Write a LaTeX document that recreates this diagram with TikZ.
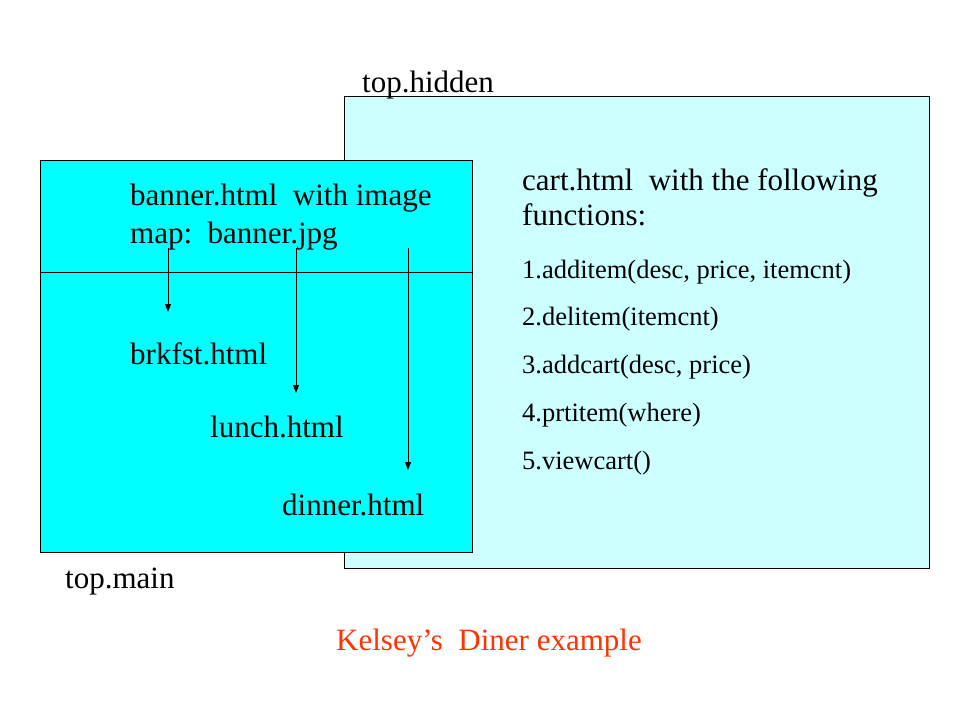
\documentclass[tikz,border=0pt]{standalone}
\usepackage{fontspec}
\setmainfont{Liberation Serif}
\usetikzlibrary{arrows.meta}
\definecolor{maincyan}{HTML}{00FFFF}
\definecolor{hiddencyan}{HTML}{CCFFFF}
\definecolor{titlered}{HTML}{FF3300}
\begin{document}
\begin{tikzpicture}[x=1pt,y=-1pt,
  big/.style={anchor=base west,inner sep=0pt,font=\fontsize{31}{37}\selectfont},
  small/.style={anchor=base west,inner sep=0pt,font=\fontsize{26.5}{31}\selectfont},
  link/.style={-{Triangle[length=8pt,width=6pt]},line width=0.8pt}]
\useasboundingbox (0,0) rectangle (960,720);
\fill[white] (0,0) rectangle (960,720);
% frames
\draw[fill=hiddencyan,line width=0.8pt] (344,96) rectangle (929,568);
\draw[fill=maincyan,line width=0.8pt] (40,160) rectangle (472,552);
\draw[line width=0.8pt] (40,272) -- (472,272);
% labels
\node[big] (hid) at (362,92) {top.hidden};
\node[big] (mainlbl) at (65,588) {top.main};
\node[big] (banner1) at (130,205) {banner.html\ \ with image};
\node[big] (banner2) at (130,243) {map:\ \ banner.jpg};
\node[big] (brk) at (130,364) {brkfst.html};
\node[big] (lunch) at (210,437) {lunch.html};
\node[big] (dinner) at (282,515) {dinner.html};
\node[big] (cart1) at (522,190) {cart.html\ \ with the following};
\node[big] (cart2) at (522,225) {functions:};
\node[small] (f1) at (522,278) {1.additem(desc, price, itemcnt)};
\node[small] (f2) at (522,325) {2.delitem(itemcnt)};
\node[small] (f3) at (522,373) {3.addcart(desc, price)};
\node[small] (f4) at (522,421) {4.prtitem(where)};
\node[small] (f5) at (522,469) {5.viewcart()};
\node[anchor=base,inner sep=0pt,font=\fontsize{31}{37}\selectfont,text=titlered] (title) at (489,650) {Kelsey’s\ \ Diner example};
% arrows
\coordinate (s1) at (168,248); \coordinate (e1) at (168,312);
\coordinate (s2) at (296,248); \coordinate (e2) at (296,393);
\coordinate (s3) at (408,248); \coordinate (e3) at (408,470);
\draw[link] (s1) -- (e1);
\draw[link] (s2) -- (e2);
\draw[link] (s3) -- (e3);
\end{tikzpicture}
\end{document}
